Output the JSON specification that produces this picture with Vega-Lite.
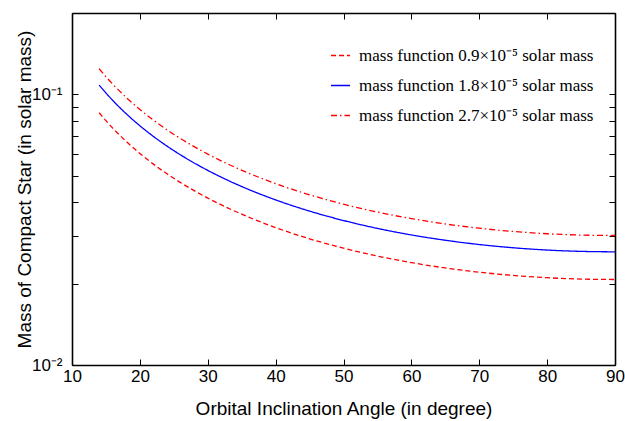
{
  "$schema": "https://vega.github.io/schema/vega-lite/v6.json",
  "width": 543,
  "height": 352,
  "autosize": {"type": "none"},
  "padding": {"left": 72, "top": 13, "right": 10, "bottom": 56},
  "background": "white",
  "config": {
    "view": {"stroke": null},
    "axis": {
      "domainColor": "#000000",
      "domainWidth": 1.6,
      "tickColor": "#000000",
      "tickWidth": 1,
      "tickSize": -6,
      "grid": false,
      "labelFlush": false,
      "labelOverlap": false,
      "labelFont": "Liberation Sans",
      "labelFontSize": 17,
      "labelColor": "#000000",
      "titleFont": "Liberation Sans",
      "titleFontSize": 19,
      "titleFontWeight": "normal",
      "titleColor": "#000000"
    }
  },
  "datasets": {
    "curves": [
      {"angle": 14, "mass": 0.08557, "series": "mass function 0.9×10⁻⁵ solar mass"},
      {"angle": 15, "mass": 0.07998, "series": "mass function 0.9×10⁻⁵ solar mass"},
      {"angle": 16, "mass": 0.07510, "series": "mass function 0.9×10⁻⁵ solar mass"},
      {"angle": 18, "mass": 0.06699, "series": "mass function 0.9×10⁻⁵ solar mass"},
      {"angle": 20, "mass": 0.06052, "series": "mass function 0.9×10⁻⁵ solar mass"},
      {"angle": 22, "mass": 0.05526, "series": "mass function 0.9×10⁻⁵ solar mass"},
      {"angle": 24, "mass": 0.05089, "series": "mass function 0.9×10⁻⁵ solar mass"},
      {"angle": 26, "mass": 0.04722, "series": "mass function 0.9×10⁻⁵ solar mass"},
      {"angle": 28, "mass": 0.04409, "series": "mass function 0.9×10⁻⁵ solar mass"},
      {"angle": 30, "mass": 0.04140, "series": "mass function 0.9×10⁻⁵ solar mass"},
      {"angle": 33, "mass": 0.03801, "series": "mass function 0.9×10⁻⁵ solar mass"},
      {"angle": 36, "mass": 0.03522, "series": "mass function 0.9×10⁻⁵ solar mass"},
      {"angle": 40, "mass": 0.03220, "series": "mass function 0.9×10⁻⁵ solar mass"},
      {"angle": 45, "mass": 0.02927, "series": "mass function 0.9×10⁻⁵ solar mass"},
      {"angle": 50, "mass": 0.02702, "series": "mass function 0.9×10⁻⁵ solar mass"},
      {"angle": 55, "mass": 0.02527, "series": "mass function 0.9×10⁻⁵ solar mass"},
      {"angle": 60, "mass": 0.02390, "series": "mass function 0.9×10⁻⁵ solar mass"},
      {"angle": 65, "mass": 0.02284, "series": "mass function 0.9×10⁻⁵ solar mass"},
      {"angle": 70, "mass": 0.02203, "series": "mass function 0.9×10⁻⁵ solar mass"},
      {"angle": 75, "mass": 0.02143, "series": "mass function 0.9×10⁻⁵ solar mass"},
      {"angle": 80, "mass": 0.02102, "series": "mass function 0.9×10⁻⁵ solar mass"},
      {"angle": 85, "mass": 0.02078, "series": "mass function 0.9×10⁻⁵ solar mass"},
      {"angle": 90, "mass": 0.02070, "series": "mass function 0.9×10⁻⁵ solar mass"},
      {"angle": 14, "mass": 0.10830, "series": "mass function 1.8×10⁻⁵ solar mass"},
      {"angle": 15, "mass": 0.10123, "series": "mass function 1.8×10⁻⁵ solar mass"},
      {"angle": 16, "mass": 0.09505, "series": "mass function 1.8×10⁻⁵ solar mass"},
      {"angle": 18, "mass": 0.08479, "series": "mass function 1.8×10⁻⁵ solar mass"},
      {"angle": 20, "mass": 0.07660, "series": "mass function 1.8×10⁻⁵ solar mass"},
      {"angle": 22, "mass": 0.06994, "series": "mass function 1.8×10⁻⁵ solar mass"},
      {"angle": 24, "mass": 0.06442, "series": "mass function 1.8×10⁻⁵ solar mass"},
      {"angle": 26, "mass": 0.05977, "series": "mass function 1.8×10⁻⁵ solar mass"},
      {"angle": 28, "mass": 0.05581, "series": "mass function 1.8×10⁻⁵ solar mass"},
      {"angle": 30, "mass": 0.05240, "series": "mass function 1.8×10⁻⁵ solar mass"},
      {"angle": 33, "mass": 0.04811, "series": "mass function 1.8×10⁻⁵ solar mass"},
      {"angle": 36, "mass": 0.04457, "series": "mass function 1.8×10⁻⁵ solar mass"},
      {"angle": 40, "mass": 0.04076, "series": "mass function 1.8×10⁻⁵ solar mass"},
      {"angle": 45, "mass": 0.03705, "series": "mass function 1.8×10⁻⁵ solar mass"},
      {"angle": 50, "mass": 0.03420, "series": "mass function 1.8×10⁻⁵ solar mass"},
      {"angle": 55, "mass": 0.03198, "series": "mass function 1.8×10⁻⁵ solar mass"},
      {"angle": 60, "mass": 0.03025, "series": "mass function 1.8×10⁻⁵ solar mass"},
      {"angle": 65, "mass": 0.02891, "series": "mass function 1.8×10⁻⁵ solar mass"},
      {"angle": 70, "mass": 0.02788, "series": "mass function 1.8×10⁻⁵ solar mass"},
      {"angle": 75, "mass": 0.02712, "series": "mass function 1.8×10⁻⁵ solar mass"},
      {"angle": 80, "mass": 0.02660, "series": "mass function 1.8×10⁻⁵ solar mass"},
      {"angle": 85, "mass": 0.02630, "series": "mass function 1.8×10⁻⁵ solar mass"},
      {"angle": 90, "mass": 0.02620, "series": "mass function 1.8×10⁻⁵ solar mass"},
      {"angle": 14, "mass": 0.12442, "series": "mass function 2.7×10⁻⁵ solar mass"},
      {"angle": 15, "mass": 0.11630, "series": "mass function 2.7×10⁻⁵ solar mass"},
      {"angle": 16, "mass": 0.10920, "series": "mass function 2.7×10⁻⁵ solar mass"},
      {"angle": 18, "mass": 0.09741, "series": "mass function 2.7×10⁻⁵ solar mass"},
      {"angle": 20, "mass": 0.08801, "series": "mass function 2.7×10⁻⁵ solar mass"},
      {"angle": 22, "mass": 0.08035, "series": "mass function 2.7×10⁻⁵ solar mass"},
      {"angle": 24, "mass": 0.07400, "series": "mass function 2.7×10⁻⁵ solar mass"},
      {"angle": 26, "mass": 0.06866, "series": "mass function 2.7×10⁻⁵ solar mass"},
      {"angle": 28, "mass": 0.06412, "series": "mass function 2.7×10⁻⁵ solar mass"},
      {"angle": 30, "mass": 0.06020, "series": "mass function 2.7×10⁻⁵ solar mass"},
      {"angle": 33, "mass": 0.05527, "series": "mass function 2.7×10⁻⁵ solar mass"},
      {"angle": 36, "mass": 0.05121, "series": "mass function 2.7×10⁻⁵ solar mass"},
      {"angle": 40, "mass": 0.04683, "series": "mass function 2.7×10⁻⁵ solar mass"},
      {"angle": 45, "mass": 0.04257, "series": "mass function 2.7×10⁻⁵ solar mass"},
      {"angle": 50, "mass": 0.03929, "series": "mass function 2.7×10⁻⁵ solar mass"},
      {"angle": 55, "mass": 0.03675, "series": "mass function 2.7×10⁻⁵ solar mass"},
      {"angle": 60, "mass": 0.03476, "series": "mass function 2.7×10⁻⁵ solar mass"},
      {"angle": 65, "mass": 0.03321, "series": "mass function 2.7×10⁻⁵ solar mass"},
      {"angle": 70, "mass": 0.03203, "series": "mass function 2.7×10⁻⁵ solar mass"},
      {"angle": 75, "mass": 0.03116, "series": "mass function 2.7×10⁻⁵ solar mass"},
      {"angle": 80, "mass": 0.03056, "series": "mass function 2.7×10⁻⁵ solar mass"},
      {"angle": 85, "mass": 0.03021, "series": "mass function 2.7×10⁻⁵ solar mass"},
      {"angle": 90, "mass": 0.03010, "series": "mass function 2.7×10⁻⁵ solar mass"}
    ]
  },
  "data": {"name": "curves"},
  "layer": [
    {
      "mark": {"type": "line", "strokeWidth": 1.3, "interpolate": "monotone", "clip": true},
      "encoding": {
        "x": {
          "field": "angle",
          "type": "quantitative",
          "scale": {"domain": [10, 90], "nice": false, "zero": false},
          "axis": {
            "orient": "bottom",
            "values": [10, 20, 30, 40, 50, 60, 70, 80, 90],
            "labelPadding": 9.5,
            "title": "Orbital Inclination Angle (in degree)",
            "titlePadding": 15
          }
        },
        "y": {
          "field": "mass",
          "type": "quantitative",
          "scale": {"type": "log", "domain": [0.01, 0.2], "nice": false},
          "axis": {
            "orient": "left",
            "values": [0.01, 0.02, 0.03, 0.04, 0.05, 0.06, 0.07, 0.08, 0.09, 0.1, 0.2],
            "labelExpr": "abs(datum.value - 0.1) < 0.0001 ? '10⁻¹' : (abs(datum.value - 0.01) < 0.0001 ? '10⁻²' : '')",
            "labelPadding": 16,
            "title": "Mass of Compact Star (in solar mass)",
            "titlePadding": -3
          }
        },
        "color": {
          "field": "series",
          "type": "nominal",
          "scale": {
            "domain": ["mass function 0.9×10⁻⁵ solar mass", "mass function 1.8×10⁻⁵ solar mass", "mass function 2.7×10⁻⁵ solar mass"],
            "range": ["#ff0000", "#0000ff", "#ff0000"]
          },
          "legend": {
            "title": null,
            "orient": "none",
            "legendX": 258,
            "legendY": 32,
            "padding": 0,
            "symbolType": "stroke",
            "symbolSize": 361,
            "symbolStrokeWidth": 1.3,
            "labelFont": "Liberation Serif",
            "labelFontSize": 17,
            "labelColor": "#000000",
            "labelOffset": 8,
            "labelLimit": 400,
            "rowPadding": 11
          }
        },
        "strokeDash": {
          "field": "series",
          "type": "nominal",
          "scale": {
            "domain": ["mass function 0.9×10⁻⁵ solar mass", "mass function 1.8×10⁻⁵ solar mass", "mass function 2.7×10⁻⁵ solar mass"],
            "range": [[5, 3], [1, 0], [6, 3, 1.5, 3]]
          },
          "legend": {
            "title": null,
            "orient": "none",
            "legendX": 258,
            "legendY": 32,
            "padding": 0,
            "symbolType": "stroke",
            "symbolSize": 361,
            "symbolStrokeWidth": 1.3,
            "labelFont": "Liberation Serif",
            "labelFontSize": 17,
            "labelColor": "#000000",
            "labelOffset": 8,
            "labelLimit": 400,
            "rowPadding": 11
          }
        }
      }
    },
    {
      "mark": {"type": "line", "opacity": 0},
      "encoding": {
        "x": {
          "field": "angle",
          "type": "quantitative",
          "axis": {"orient": "top", "values": [10, 20, 30, 40, 50, 60, 70, 80, 90], "labels": false, "title": null}
        },
        "y": {
          "field": "mass",
          "type": "quantitative",
          "axis": {"orient": "right", "values": [0.01, 0.02, 0.03, 0.04, 0.05, 0.06, 0.07, 0.08, 0.09, 0.1, 0.2], "labels": false, "title": null}
        },
        "detail": {"field": "series", "type": "nominal"}
      }
    }
  ],
  "resolve": {"axis": {"x": "independent", "y": "independent"}}
}
